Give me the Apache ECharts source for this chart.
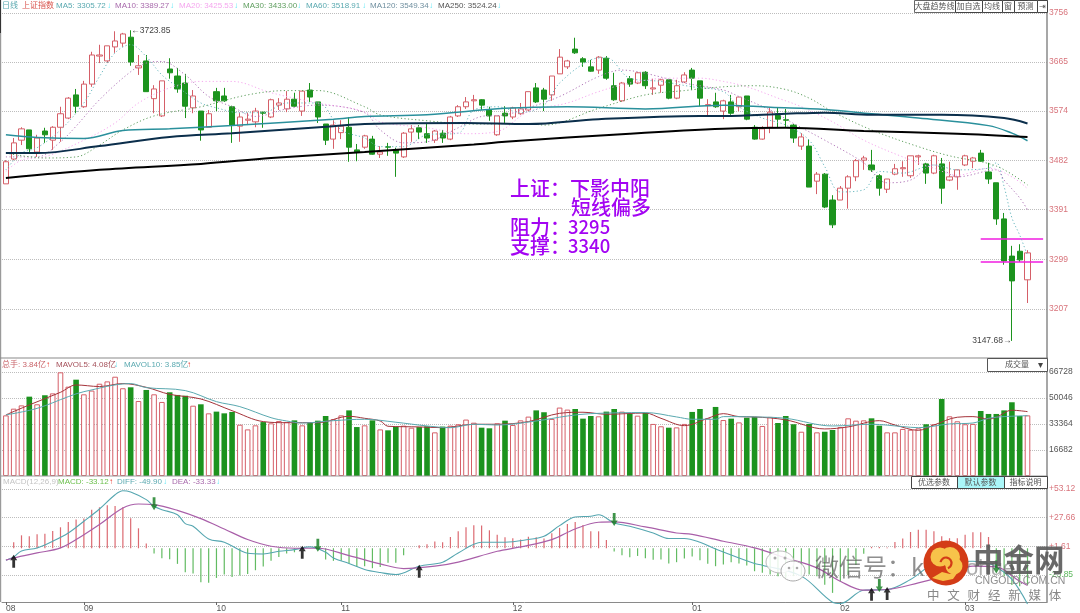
<!DOCTYPE html>
<html><head><meta charset="utf-8">
<style>html,body{margin:0;padding:0;background:#fff}#c{width:1080px;height:613px}</style>
<script src="https://cdn.jsdelivr.net/npm/echarts@6/dist/echarts.min.js"></script>
</head><body><div id="c"></div>
<script>
const opens=[3439,3485,3520,3539,3498,3537,3520,3544,3561,3604,3582,3624,3676,3667,3693,3700,3711,3654,3667,3597,3565,3652,3639,3626,3580,3574,3544,3610,3602,3582,3546,3557,3554,3572,3563,3585,3578,3596,3574,3613,3591,3550,3522,3534,3544,3502,3507,3522,3494,3508,3502,3489,3535,3543,3532,3520,3533,3522,3565,3582,3593,3595,3576,3530,3570,3563,3569,3576,3617,3613,3604,3643,3656,3689,3671,3656,3650,3672,3621,3593,3634,3626,3646,3615,3622,3632,3598,3628,3650,3630,3584,3591,3574,3591,3582,3602,3544,3522,3544,3569,3558,3548,3509,3509,3444,3457,3409,3409,3431,3452,3483,3474,3454,3429,3457,3467,3454,3489,3476,3459,3476,3446,3452,3474,3481,3496,3461,3441,3374,3305,3314,3261];
const closes=[3480,3515,3541,3504,3524,3530,3544,3569,3598,3583,3624,3678,3678,3695,3704,3717,3665,3658,3610,3615,3630,3645,3615,3583,3602,3539,3569,3593,3593,3548,3563,3559,3574,3570,3595,3589,3596,3583,3611,3600,3563,3520,3548,3546,3507,3498,3528,3494,3498,3507,3496,3533,3541,3535,3524,3537,3524,3563,3582,3591,3595,3585,3565,3565,3565,3580,3578,3610,3591,3596,3639,3674,3667,3682,3665,3648,3674,3635,3595,3626,3624,3645,3621,3617,3632,3598,3621,3641,3635,3598,3586,3582,3593,3570,3600,3559,3522,3541,3572,3559,3557,3524,3526,3433,3457,3396,3363,3431,3452,3482,3487,3465,3431,3448,3467,3469,3491,3491,3459,3491,3431,3452,3465,3491,3487,3481,3448,3374,3296,3259,3298,3311];
const lows=[3439,3483,3511,3498,3489,3515,3502,3517,3559,3570,3580,3619,3663,3663,3682,3693,3658,3641,3610,3570,3563,3634,3608,3561,3570,3519,3544,3574,3591,3515,3517,3548,3544,3543,3561,3576,3572,3582,3565,3591,3552,3511,3504,3522,3480,3481,3504,3493,3487,3491,3452,3487,3517,3522,3515,3515,3515,3520,3563,3578,3576,3576,3556,3528,3552,3559,3567,3574,3589,3574,3593,3643,3652,3680,3656,3647,3643,3632,3593,3591,3619,3624,3615,3604,3608,3596,3596,3626,3613,3583,3563,3580,3559,3567,3574,3557,3521,3521,3533,3543,3544,3515,3502,3433,3420,3394,3357,3409,3393,3444,3465,3461,3417,3422,3455,3452,3450,3474,3439,3457,3402,3444,3428,3472,3468,3480,3439,3363,3289,3147.68,3294,3218];
const highs=[3483,3524,3544,3539,3530,3543,3546,3582,3600,3615,3630,3684,3697,3695,3722,3719,3723.85,3678,3678,3622,3630,3672,3654,3643,3613,3574,3576,3617,3617,3584,3571,3571,3580,3572,3597,3598,3611,3608,3611,3626,3591,3550,3557,3557,3563,3513,3530,3528,3509,3515,3506,3535,3548,3548,3552,3539,3539,3565,3585,3600,3604,3596,3582,3565,3583,3582,3589,3610,3626,3617,3639,3689,3669,3710,3674,3669,3676,3676,3645,3628,3639,3646,3648,3634,3634,3632,3632,3646,3654,3630,3596,3608,3595,3604,3600,3602,3548,3546,3580,3580,3578,3550,3533,3522,3461,3459,3418,3435,3455,3485,3491,3502,3457,3448,3476,3481,3491,3493,3478,3493,3487,3480,3465,3493,3489,3502,3478,3441,3385,3324,3327,3316];
const volumes=[38900,43200,45300,50900,46000,51800,53000,66500,57300,61800,52400,54800,59200,60700,63700,56300,56900,48100,55200,52400,47500,53700,52000,51500,45100,46000,40200,41300,40200,41100,32900,29900,32500,34600,33800,35300,34600,35700,32500,34200,35500,38500,36400,38900,42100,31400,32500,35700,29900,29300,31700,32300,31000,31400,31900,28000,31700,32300,33200,36200,34200,31000,30600,33800,35500,32700,35700,38100,42100,40900,36600,43900,42600,43000,36800,38500,38300,41300,43000,41300,40000,38700,40400,33400,31900,31000,31200,33400,41100,43000,37000,44300,35900,36800,34400,37400,37900,32100,37900,34000,38500,33200,28400,33400,28000,28400,29500,31400,37000,35500,35700,37000,32300,28000,28000,30200,29700,30600,33200,33200,49400,38300,35100,33200,33400,41700,39800,39800,42100,47300,38500,38900];
const macdBars=[0,5.4,11.6,10.7,12.5,13.1,15.5,18.8,23.6,25.7,26.6,34.6,36.7,38.5,37.9,36.7,26.9,17.9,4.2,-4.8,-9,-9.9,-14,-21.5,-22.7,-30.4,-31,-26.6,-23.6,-25.7,-24.5,-23,-19.7,-16.4,-11.3,-7.8,-4.8,-3.6,-1.2,0.3,0.6,-10.1,-11.3,-11.3,-13.7,-16.7,-16.1,-17.9,-16.7,-13.1,-13.1,-6.3,0.2,2.7,3.6,6,5.4,10.1,15.2,18.8,20.6,20.3,16.1,12.2,9.9,9,7.8,10.4,9.9,8.7,13.4,18.2,21.8,23.6,20.9,15.2,15.2,7.5,-3,-6.3,-8.1,-6.9,-9,-10.4,-10.1,-13.7,-12.5,-9.3,-7.5,-10.7,-14,-16.1,-14.6,-12.5,-13.7,-15.5,-20.6,-22,-23.6,-25,-26.6,-25,-25,-23.6,-25,-32.8,-40,-30,-24,-15,-5,1.2,1.2,0.6,5.7,8.7,14.6,16.7,16.7,15.2,10.7,9,9,12.2,14.3,14.3,10.1,-16,-25,-33,-34,-33.12];
const ma5=[[0,3465],[2,3496],[4,3506],[7,3539],[10,3589],[12,3638],[14,3682],[16,3697],[18,3675],[20,3641],[22,3619],[25,3589],[27,3580],[30,3571],[33,3571],[36,3589],[40,3589],[43,3539],[46,3524],[48,3508],[51,3508],[54,3530],[58,3533],[60,3576],[63,3582],[66,3571],[69,3585],[71,3626],[75,3669],[77,3673],[80,3635],[84,3629],[88,3619],[92,3610],[94,3582],[97,3561],[100,3548],[103,3520],[105,3471],[107,3424],[110,3428],[112,3462],[115,3459],[119,3474],[122,3465],[126,3468],[127,3478],[128,3434],[129,3376],[130,3344],[131,3306]];
const ma10=[[0,3489],[4,3489],[7,3517],[9,3546],[12,3595],[16,3647],[18,3663],[20,3666],[23,3641],[26,3601],[29,3582],[32,3564],[36,3578],[40,3585],[46,3571],[48,3539],[51,3515],[54,3517],[58,3543],[61,3564],[64,3567],[67,3580],[71,3601],[76,3638],[79,3650],[82,3644],[87,3626],[92,3613],[94,3601],[98,3576],[101,3551],[105,3520],[110,3478],[113,3441],[116,3446],[119,3474],[122,3452],[127,3465],[128,3446],[130,3413],[131,3391]];
const ma20=[[0,3462],[2,3483],[5,3489],[10,3520],[14,3552],[17,3589],[21,3617],[25,3629],[29,3629],[34,3608],[40,3589],[46,3573],[48,3554],[54,3543],[59,3532],[63,3536],[67,3573],[72,3589],[76,3610],[80,3626],[85,3635],[89,3635],[92,3629],[95,3619],[99,3598],[102,3582],[106,3554],[110,3520],[115,3489],[119,3468],[122,3455],[126,3468],[129,3452],[131,3430]];
const ma30=[[0,3496],[5,3487],[9,3489],[12,3511],[15,3539],[19,3565],[25,3582],[31,3604],[36,3612],[40,3612],[46,3582],[48,3567],[54,3556],[60,3550],[67,3551],[69,3548],[76,3579],[82,3604],[87,3612],[92,3619],[96,3621],[100,3614],[103,3598],[106,3573],[111,3539],[117,3508],[121,3491],[127,3472],[131,3437]];
const ma60=[[0,3530],[4,3525],[10,3523],[15,3538],[21,3541],[29,3547],[42,3559],[46,3564],[54,3567],[64,3579],[72,3582],[82,3578],[92,3585],[98,3581],[105,3577],[111,3569],[117,3561],[126,3547],[129,3533],[131,3519]];
const ma120=[[0,3496],[4,3496],[12,3509],[21,3526],[29,3533],[42,3546],[46,3550],[59,3552],[67,3550],[76,3559],[89,3565],[92,3565],[100,3569],[105,3571],[111,3567],[120,3567],[128,3561],[131,3551]];
const ma250=[[0,3450],[12,3465],[25,3476],[34,3487],[46,3498],[60,3512],[64,3517],[80,3532],[92,3541],[100,3543],[110,3537],[122,3532],[131,3526]];
const mavol5=[[0,39200],[3,45600],[7,53700],[9,58400],[12,57400],[15,59300],[18,56900],[21,52400],[25,49400],[29,41900],[33,34900],[36,34200],[40,34200],[44,38300],[46,37000],[48,35300],[49,31900],[53,31500],[56,31000],[60,33200],[63,33200],[67,34900],[71,40200],[74,40900],[77,39600],[82,40400],[84,37000],[87,32300],[90,37000],[92,40000],[94,38100],[96,37900],[100,36000],[105,30200],[108,31500],[112,35500],[114,32700],[117,29300],[119,32700],[122,37700],[124,38100],[126,36600],[127,37700],[129,42200],[131,41300]];
const mavol10=[[0,39200],[4,43400],[8,50900],[10,54100],[16,59300],[18,56700],[23,54800],[27,47700],[30,44500],[34,37400],[36,35300],[38,34000],[42,35500],[46,36400],[50,34500],[54,32100],[57,31000],[60,33200],[63,32700],[68,35300],[72,38500],[75,40000],[82,40700],[86,37900],[88,36400],[91,36400],[92,38100],[96,37900],[100,37000],[106,32100],[111,33200],[115,31700],[117,31000],[121,33400],[124,34000],[126,37000],[128,38100],[131,38700]];
const diff=[[0,-10.7],[1,-7.8],[2,-2.4],[4,0.3],[6,6.3],[8,13.7],[10,24.2],[12,35.2],[14,48],[15,51.6],[16,50.4],[18,43.6],[19,37.6],[20,34.6],[22,30.1],[23,22.1],[24,19.7],[26,8.4],[28,5.4],[30,-1.8],[31,-4.5],[33,-5.1],[35,-2.7],[37,-1.2],[39,1.2],[41,-3.6],[42,-8.7],[44,-13.7],[46,-19],[48,-21.8],[50,-23.6],[53,-16.1],[56,-12.5],[58,-4.2],[61,5.4],[64,5.4],[67,7.8],[69,10.7],[71,20.3],[73,28],[75,28.7],[76,30.1],[78,22.7],[80,19.7],[83,13.7],[85,8.7],[87,8.7],[89,5.4],[91,-0.6],[96,-13.7],[97,-15.2],[102,-25],[106,-48.4],[107,-49.6],[110,-37.6],[113,-37],[116,-28],[119,-14.6],[124,-11.6],[126,-13.7],[127,-16.7],[129,-28],[131,-49.9]];
const dea=[[0,-10.7],[1,-8.7],[4,-4.2],[7,0.3],[10,12.2],[12,21.2],[15,36.1],[17,39.7],[19,39.1],[22,34],[25,26.6],[28,17.3],[31,7.8],[34,1.8],[37,0],[40,0],[44,-6.6],[48,-14],[51,-18.2],[55,-16.1],[58,-12.5],[63,-2.7],[66,1.2],[70,7.8],[73,17.3],[76,23.3],[78,23.6],[82,19.1],[86,13.7],[88,12.5],[92,6.3],[96,0.3],[100,-8.7],[104,-17.6],[107,-29.6],[110,-37.6],[113,-37],[117,-31],[121,-23.6],[124,-16],[127,-16.7],[130,-29.6],[131,-33.33]];
const crossUp=[[1,-11.6],[38,-3.6],[53,-20.6],[111,-41.2],[113,-40.6]];
const crossDown=[[19,40],[40,2.7],[78,25.7],[112,-33.4],[127,-16.7]];
const priceTicks=[3756,3665,3574,3482,3391,3299,3207];
const volTicks=[16682,33364,50046,66728];
const macdTicks=[53.12,27.66,1.61,-23.85];
const monthLabels={0:'08',10:'09',27:'10',43:'11',65:'12',88:'01',107:'02',123:'03'};
const resistanceLine=3337, supportLine=3294;
const slotCount=134;

const RED='#d55f68', GREEN='#1c931e', AX='#8a8a8a', FONT='"Liberation Sans",Arial,sans-serif', CJK='"Liberation Sans","Noto Sans CJK SC",sans-serif';
const cats=Array.from({length:slotCount},(_,i)=>monthLabels[i]||('#'+i));
const chart=echarts.init(document.getElementById('c'),null,{renderer:'canvas'});
const splitDot={show:true,lineStyle:{color:'#bdbdbd',type:'dotted',width:1}};
const xa=(idx,showLabel)=>({type:'category',gridIndex:idx,data:cats,boundaryGap:true,
  axisLine:{show:showLabel,onZero:false,lineStyle:{color:AX,width:1}},
  axisTick:{show:showLabel,length:3,alignWithLabel:true,interval:(i)=>monthLabels[i]!==undefined,lineStyle:{color:'#666'}},
  axisLabel:{show:showLabel,interval:(i)=>monthLabels[i]!==undefined,formatter:v=>v[0]==='#'?'':v,align:'left',margin:2,fontSize:8.5,color:'#555',fontFamily:FONT},
  splitLine:{show:false}});
const ya=(idx,min,max,ticks,fmt,col)=>({type:'value',gridIndex:idx,position:'right',min,max,scale:true,
  axisLine:{show:true,lineStyle:{color:AX,width:1.5}},axisTick:{show:false,customValues:ticks},
  splitLine:splitDot,
  axisLabel:{customValues:ticks,fontSize:8.5,margin:2,fontFamily:FONT,color:col,formatter:fmt,hideOverlap:false,showMinLabel:true,showMaxLabel:true}});
const line=(name,data,color,width,type,xi)=>({name,type:'line',xAxisIndex:xi,yAxisIndex:xi,data,smooth:0.35,showSymbol:false,symbol:'none',silent:true,z:5,clip:false,
  lineStyle:{color,width,type},animation:false});
const DOTS=[1.2,2.4];
const F8='8px '+CJK;
function segs(y,parts){return parts.map(p=>({type:'text',x:p[0],y,z:50,silent:true,style:{text:p[1],fill:p[2],font:F8,textVerticalAlign:'middle'}}));}
function btn(x,y,w,h,t,fill,stroke){return [{type:'rect',z:40,shape:{x:x+.5,y:y+.5,width:w,height:h},style:{fill:fill||'#fff',stroke:stroke||'#444',lineWidth:1}},
 {type:'text',z:41,x:x+w/2,y:y+h/2+.5,style:{text:t,fill:'#555',font:F8,textAlign:'center',textVerticalAlign:'middle'}}];}
const T='#5aa9b0',CY='#58e6f5',RU='#e8392f';
const ZH='"Noto Sans CJK SC",sans-serif';
const graphics=[].concat(
 [{type:'rect',z:30,shape:{x:0,y:0,width:1.2,height:602},style:{fill:'#9a9a9a'}},
  {type:'rect',z:30,shape:{x:0,y:357.5,width:1048,height:1},style:{fill:'#8a8a8a'}},
  {type:'rect',z:30,shape:{x:0,y:475.5,width:1048,height:1},style:{fill:'#9a9a9a'}},
  {type:'rect',z:30,shape:{x:0,y:0,width:1,height:33},style:{fill:'#333'}}],
 segs(6,[[2,'日线',T],[22,'上证指数','#d9544d'],[56,'MA5: 3305.72',T],[107,'↓',CY],[115,'MA10: 3389.27','#a86aac'],[170,'↓',CY],[179,'MA20: 3425.53','#f5a6ee'],[234,'↓',CY],[243,'MA30: 3433.00','#5f9e5f'],[297,'↓',CY],[306,'MA60: 3518.91',T],[362,'↓',CY],[370,'MA120: 3549.34','#6f8f9f'],[429,'↓',CY],[438,'MA250: 3524.24','#555'],[497,'↓',CY]]),
 segs(364.5,[[2,'总手: 3.84亿','#c9646a'],[46,'↑',RU],[56,'MAVOL5: 4.08亿','#a5505a'],[114,'↓',CY],[124,'MAVOL10: 3.85亿',T],[187,'↑',RU]]),
 segs(481.5,[[3,'MACD(12,26,9)','#c4c4c4'],[58,'MACD: -33.12','#6abf4b'],[109,'↑',RU],[117,'DIFF: -49.90',T],[163,'↓',CY],[172,'DEA: -33.33','#a86aac'],[216,'↓',CY]]),
 btn(914,0,41,12,'大盘趋势线','#fff','#666'),btn(955,0,27,12,'加自选'),btn(982,0,20,12,'均线'),btn(1002,0,12,12,'窗'),btn(1014,0,23,12,'预测'),btn(1037,0,10,12,'⇥'),
 btn(987,358,60,13,'成交量','#fff','#555'),
 [{type:'text',z:42,x:1040,y:365,style:{text:'▾',fill:'#444',font:'10px '+FONT,textAlign:'center',textVerticalAlign:'middle'}}],
 btn(911,476,46,12,'优选参数'),btn(957,476,47,12,'默认参数','#aaf6f8'),btn(1004,476,43,12,'指标说明'),
 [['上证：下影中阳',510,188,20],['短线偏多',571,207,20],['阻力：',510,227,20],['3295',568,227,18.5],['支撑：',510,246,20],['3340',568,246,18.5]].map(a=>({type:'text',z:45,x:a[1],y:a[2],style:{text:a[0],fill:'#a304f2',font:'500 '+a[3]+'px '+ZH,textVerticalAlign:'middle'}})),
 // watermark
 [{type:'ellipse',z:57,shape:{cx:780,cy:562,rx:14,ry:11},style:{fill:'rgba(255,255,255,.85)',stroke:'#bbb',lineWidth:1}},
  {type:'ellipse',z:57,shape:{cx:793,cy:571,rx:12,ry:10},style:{fill:'rgba(255,255,255,.85)',stroke:'#aaa',lineWidth:1}},
  {type:'circle',z:58,shape:{cx:775,cy:558,r:1.5},style:{fill:'#aaa'}},{type:'circle',z:58,shape:{cx:785,cy:558,r:1.5},style:{fill:'#aaa'}},
  {type:'circle',z:58,shape:{cx:789,cy:568,r:1.3},style:{fill:'#aaa'}},{type:'circle',z:58,shape:{cx:797,cy:568,r:1.3},style:{fill:'#aaa'}},
  {type:'text',z:58,x:815,y:567,style:{text:'微信号：k',fill:'rgba(90,90,90,.68)',font:'24px '+ZH,textVerticalAlign:'middle'}},
  {type:'text',z:58,x:966,y:569,style:{text:'ohue',fill:'rgba(90,90,90,.5)',font:'22px '+FONT,textVerticalAlign:'middle'}},
  {type:'circle',z:60,shape:{cx:946,cy:563,r:22.5},style:{fill:'#d33c17'}},
  {type:'polygon',z:61,shape:{points:[[932,578],[942,572],[950,574],[958,572],[953,579],[943,581]]},style:{fill:'#f7c34a'}},
  {type:'circle',z:61,shape:{cx:940,cy:557,r:9.5},style:{fill:'#f7c34a'}},
  {type:'circle',z:61,shape:{cx:950,cy:557,r:10},style:{fill:'#f7c34a'}},
  {type:'circle',z:61,shape:{cx:954,cy:566,r:8.5},style:{fill:'#f7c34a'}},
  {type:'arc',z:62,shape:{cx:946,cy:563,r:5.5,startAngle:3.3,endAngle:7.5},style:{stroke:'#d33c17',lineWidth:2.2,fill:'none'}},
  {type:'text',z:59,x:973,y:559,style:{text:'中金网',fill:'rgba(92,92,92,.92)',font:'bold 30.5px '+ZH,textVerticalAlign:'middle'}},
  {type:'text',z:59,x:975,y:581.5,style:{text:'CNGOLD.COM.CN',fill:'rgba(130,130,130,.9)',font:'10.5px '+FONT,textVerticalAlign:'middle'}}],
 ['中','文','财','经','新','媒','体'].map((c,i)=>({type:'text',z:59,x:927+i*20.3,y:595,style:{text:c,fill:'rgba(130,130,130,.95)',font:'12.5px '+ZH,textVerticalAlign:'middle'}}))
);
const up=i=>closes[i]>=opens[i];
const arrowUp='path://M5,0 L10,6 L7,6 L7,14 L3,14 L3,6 L0,6 Z', arrowDown='path://M5,14 L10,8 L7,8 L7,0 L3,0 L3,8 L0,8 Z';
const candle=opens.map((o,i)=>[o,closes[i],lows[i],highs[i]]);
const hiIdx=highs.indexOf(Math.max(...highs)), loIdx=lows.indexOf(Math.min(...lows));
chart.setOption({animation:false,backgroundColor:'#fff',
 grid:[{left:2,right:33,top:0,height:358},{left:2,right:33,top:358,height:118},{left:2,right:33,top:476,height:126}],
 xAxis:[xa(0,false),xa(1,false),xa(2,true)],
 yAxis:[ya(0,3116,3780,priceTicks,v=>String(Math.round(v)),'#d8747c'),
        ya(1,0,75700,volTicks,v=>String(Math.round(v)),'#555'),
        ya(2,-48.2,64.8,macdTicks,v=>(v>0?'+':'')+v.toFixed(2),v=>(parseFloat(v)<0?'#5cb85c':'#d8747c'))],
 series:[
  {type:'candlestick',xAxisIndex:0,yAxisIndex:0,data:candle,barWidth:5.6,z:3,clip:false,
   itemStyle:{color:'#fff',color0:GREEN,borderColor:RED,borderColor0:GREEN,borderWidth:1},
   markPoint:{symbol:'circle',symbolSize:1,silent:true,itemStyle:{color:'transparent'},
     data:[{coord:[hiIdx,highs[hiIdx]],label:{show:true,position:'right',distance:0,formatter:'←'+highs[hiIdx].toFixed(2),fontSize:8.5,color:'#444',fontFamily:FONT}},
           {coord:[loIdx,lows[loIdx]],label:{show:true,position:'left',distance:0,formatter:lows[loIdx].toFixed(2)+'→',fontSize:8.5,color:'#444',fontFamily:FONT}}]},
   markLine:{silent:true,symbol:'none',label:{show:false},animation:false,lineStyle:{color:'#f01ce0',width:1.5,type:'solid'},
     data:[[{coord:[125,resistanceLine]},{coord:[133,resistanceLine]}],[{coord:[125,supportLine]},{coord:[133,supportLine]}]]}},
  line('MA5',ma5,'#69b8bf',1,DOTS,0),line('MA10',ma10,'#b074b8',1,DOTS,0),line('MA20',ma20,'#f6a9ef',1,DOTS,0),line('MA30',ma30,'#5d9e5d',1,DOTS,0),
  line('MA60',ma60,'#2a909c',1.5,'solid',0),line('MA120',ma120,'#0b2e4b',2,'solid',0),line('MA250',ma250,'#000',2,'solid',0),
  {type:'bar',xAxisIndex:1,yAxisIndex:1,barWidth:5.6,z:3,clip:false,
   data:volumes.map((v,i)=>({value:v,itemStyle:up(i)?{color:'#fff',borderColor:RED,borderWidth:1}:{color:GREEN,borderColor:GREEN,borderWidth:0}}))},
  line('MAVOL5',mavol5,'#a5333a',1,'solid',1),line('MAVOL10',mavol10,'#5aa9b0',1,'solid',1),
  {type:'bar',xAxisIndex:2,yAxisIndex:2,barWidth:1.2,z:3,
   data:macdBars.map(v=>({value:v,itemStyle:{color:v>=0?'#dc6a72':'#62bb62'}}))},
  line('DIFF',diff,'#55a6b0',1.1,'solid',2),line('DEA',dea,'#a95fa9',1.2,'solid',2),
  {type:'scatter',xAxisIndex:2,yAxisIndex:2,data:crossUp,symbol:arrowUp,symbolSize:[7,13],z:8,itemStyle:{color:'#000'}},
  {type:'scatter',xAxisIndex:2,yAxisIndex:2,data:crossDown,symbol:arrowDown,symbolSize:[7,13],z:8,itemStyle:{color:'#0f7a1d'}}
 ],
 graphic:graphics
});
</script></body></html>
